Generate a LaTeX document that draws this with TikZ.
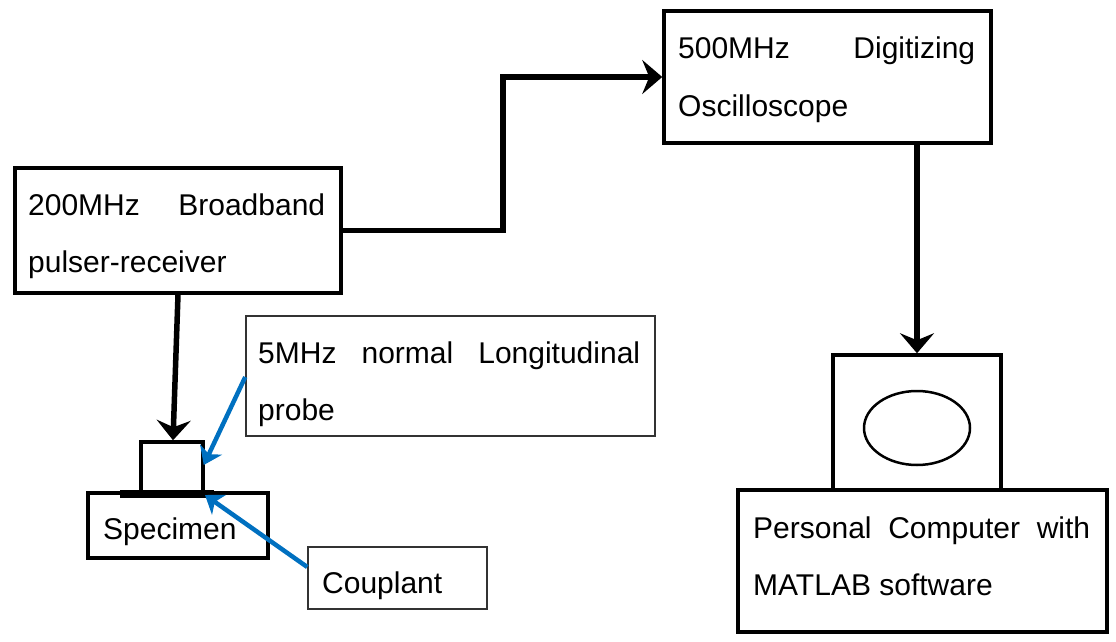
\documentclass[tikz,border=0pt]{standalone}
\usepackage{fontspec}
\setmainfont{Liberation Sans}
\usetikzlibrary{arrows.meta,calc,shapes.geometric}
\definecolor{cblue}{RGB}{0,112,192}
\tikzset{
  box/.style={draw, rectangle, line width=3.5pt, inner sep=0pt},
  thinbox/.style={draw=black!80, rectangle, line width=1.5pt, inner sep=0pt},
  txt/.style={inner sep=0pt, anchor=base west, font=\fontsize{30}{57}\selectfont},
  flow/.style={line width=5.5pt, -{Stealth[length=20pt,width=34pt,inset=7pt]}},
  pointer/.style={cblue, line width=4.5pt, -{Stealth[length=17pt,width=24pt,inset=5pt]}}
}
\begin{document}
\begin{tikzpicture}[x=1pt,y=-1pt]
\useasboundingbox (0,0) rectangle (1116,642);
% boxes
\node[box, minimum width=326pt, minimum height=125pt] (pulser) at (178,230.5) {};
\node[box, minimum width=327pt, minimum height=132pt] (osc) at (827.5,77) {};
\node[box, minimum width=168pt, minimum height=135pt] (mon) at (917,422.5) {};
\node[draw, ellipse, line width=2.5pt, minimum width=106pt, minimum height=74pt, inner sep=0pt] (screen) at (917,428) {};
\node[box, minimum width=369pt, minimum height=142pt] (pc) at (922.5,561) {};
\node[box, minimum width=180pt, minimum height=65pt] (spec) at (178,525.5) {};
\node[box, minimum width=62pt, minimum height=50pt] (probe) at (172,467) {};
\draw[line width=8pt] (120,494) coordinate (barL) -- (214,494) coordinate (barR);
\node[thinbox, minimum width=409pt, minimum height=120pt] (plabel) at (450.5,376) {};
\node[thinbox, minimum width=179pt, minimum height=62pt] (clabel) at (397.5,578) {};
% texts
\node[txt] (t1) at (28,215) {\makebox[297pt][s]{200MHz Broadband}};
\node[txt] (t2) at (28,272) {pulser-receiver};
\node[txt] (t3) at (678,59) {\makebox[297pt][s]{500MHz Digitizing}};
\node[txt] (t4) at (678,116) {Oscilloscope};
\node[txt] (t5) at (258,363) {\makebox[382pt][s]{5MHz normal Longitudinal}};
\node[txt] (t6) at (258,420) {probe};
\node[txt] (t7) at (753,538) {\makebox[337pt][s]{Personal Computer with}};
\node[txt] (t8) at (753,595) {MATLAB software};
\node[txt] (t9) at (103,539) {Specimen};
\node[txt] (t10) at (322,593) {Couplant};
% connectors
\draw[flow] (pulser.east) -- (503,230.5) |- (osc.west);
\draw[flow] (osc.south -| mon.north) -- (mon.north);
\draw[flow] (pulser.south) -- ($(probe.north)+(1,0)$);
\draw[pointer] ($(plabel.west)+(0,1)$) -- ($(probe.east)+(-1,-2)$);
\draw[pointer] ($(clabel.west)+(0,-11)$) -- ($(barR)+(-9,1)$);
\end{tikzpicture}
\end{document}
